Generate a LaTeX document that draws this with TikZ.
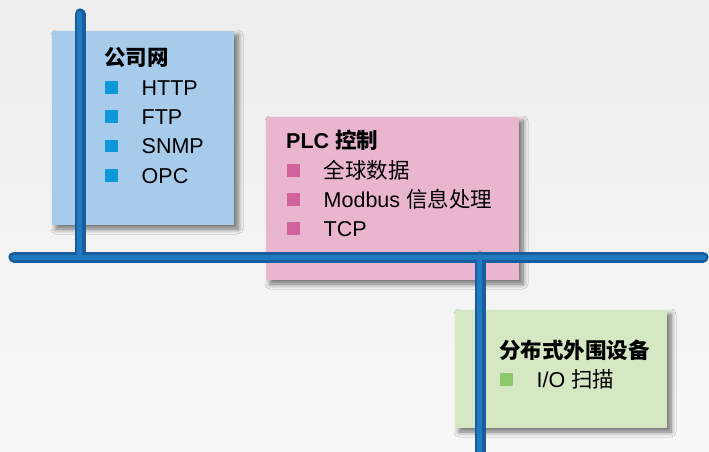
\documentclass[tikz,border=0pt]{standalone}
\usepackage{fontspec}
\setmainfont{Liberation Sans}
\newfontfamily\cjk{Noto Sans CJK SC}
\usetikzlibrary{shadows.blur}
\definecolor{bgtop}{HTML}{EDEDED}
\definecolor{bgbot}{HTML}{F8F8F8}
\definecolor{boxblue}{HTML}{A7CBEA}
\definecolor{boxpink}{HTML}{EAB6CF}
\definecolor{boxgreen}{HTML}{D6E7C3}
\definecolor{busdark}{HTML}{165E9E}
\definecolor{buslight}{HTML}{2279C0}
\definecolor{bulblue}{HTML}{0E97D9}
\definecolor{bulpink}{HTML}{D2629C}
\definecolor{bulgreen}{HTML}{8DC86B}
\newcommand{\bul}[1]{\textcolor{#1}{\rule[1.5pt]{13pt}{12.5pt}}\hspace{23.5pt}}
\begin{document}
\begin{tikzpicture}[x=1pt,y=-1pt,
  panel/.style={draw=none, inner sep=0pt, blur shadow={shadow xshift=4pt, shadow yshift=-4pt, shadow blur steps=8, shadow blur radius=5pt, shadow opacity=55}},
  txt/.style={anchor=base west, inner sep=0pt, font=\fontsize{21.5}{24}\selectfont},
  head/.style={txt, font=\fontsize{21.5}{24}\selectfont\bfseries},
  busshadow/.style={line width=11pt, line cap=round, black, opacity=0.2},
  busline/.style={line width=11pt, line cap=round, busdark},
  bushi/.style={line width=5.5pt, line cap=round, buslight}]
\shade[top color=bgtop, bottom color=bgbot] (0,0) rectangle (709,452);
\useasboundingbox (0,0) rectangle (709,452);

% panels
\node[panel, fill=boxblue, minimum width=182pt, minimum height=194pt] (corp) at (143,128) {};
\node[panel, fill=boxpink, minimum width=253pt, minimum height=163pt] (plc) at (392.5,198.5) {};
\node[panel, fill=boxgreen, minimum width=212pt, minimum height=118pt] (dio) at (561,369) {};

% bus coordinates
\coordinate (vtop) at (80,14);
\coordinate (j1) at (80,257);
\coordinate (busL) at (14,257);
\coordinate (busR) at (703,257);
\coordinate (j2) at (480,257);
\coordinate (vbot) at (480,460);

% bus shadows
\begin{scope}[shift={(3,4)}]
\draw[busshadow] (vtop) -- (j1);
\draw[busshadow] (busL) -- (busR);
\draw[busshadow] (j2) -- (vbot);
\end{scope}
% bus lines
\draw[busline] (vtop) -- (j1);
\draw[busline] (j2) -- (vbot);
\draw[busline] (busL) -- (busR);
\draw[bushi] ([xshift=-0.5pt]vtop) -- ([xshift=-0.5pt]j1);
\draw[bushi] ([xshift=-0.5pt]j2) -- ([xshift=-0.5pt]vbot);
\draw[bushi] ([yshift=-0.5pt]busL) -- ([yshift=-0.5pt]busR);

% corporate network text
\node[head] (corph) at (104,66) {\cjk\bfseries 公司网};
\node[txt] (c1) at (105,95) {\bul{bulblue}HTTP};
\node[txt] (c2) at (105,124) {\bul{bulblue}FTP};
\node[txt] (c3) at (105,153.5) {\bul{bulblue}SNMP};
\node[txt] (c4) at (105,183) {\bul{bulblue}OPC};

% PLC text
\node[head] (plch) at (286,148) {PLC {\cjk\bfseries 控制}};
\node[txt] (p1) at (287,178) {\bul{bulpink}{\cjk 全球数据}};
\node[txt] (p2) at (287,207) {\bul{bulpink}Modbus {\cjk 信息处理}};
\node[txt] (p3) at (287,236) {\bul{bulpink}TCP};

% distributed IO text
\node[head] (dioh) at (499,358) {\cjk\bfseries 分布式外围设备};
\node[txt] (d1) at (500,387) {\bul{bulgreen}I/O {\cjk 扫描}};
\end{tikzpicture}
\end{document}
